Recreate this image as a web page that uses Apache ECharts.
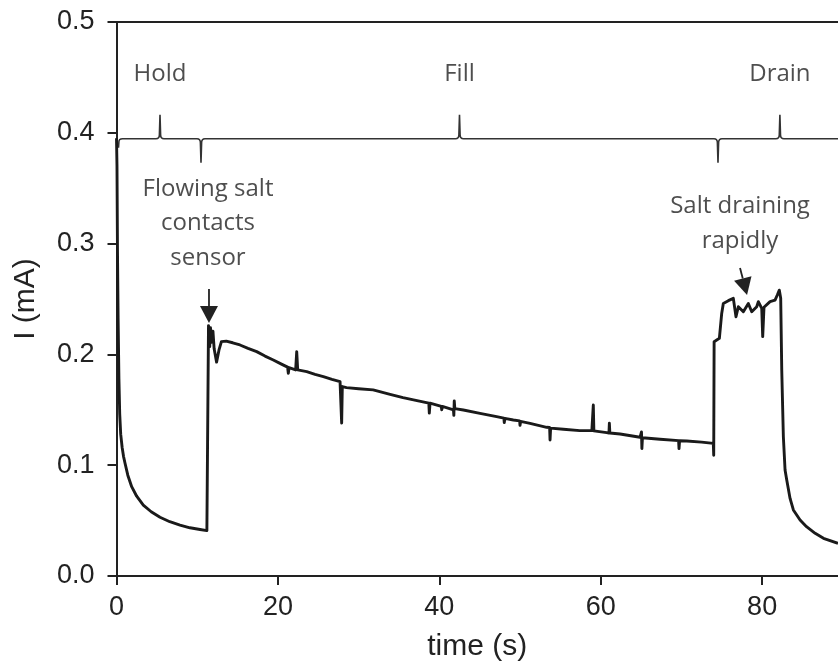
<!DOCTYPE html>
<html>
<head>
<meta charset="utf-8">
<script src="https://cdn.jsdelivr.net/npm/echarts@6/dist/echarts.min.js"></script>
<style>
  html, body { margin: 0; padding: 0; background: #fff; }
  #chart { width: 838px; height: 661px; }
</style>
</head>
<body>
<div id="chart"></div>
<script>
// Sensor current during a hold / fill / drain cycle
const timeS = [
  0, 0.06, 0.12, 0.2, 0.3, 0.4, 0.52, 0.7, 0.87, 1.05, 1.4, 1.88, 2.5, 3.32, 4.3, 5.39, 6.6, 7.87, 9.1, 10.35, 11.2, 11.36,
  11.4, 11.55, 11.65, 11.8, 11.95, 12.1, 12.4, 12.7, 13.0, 13.6, 14.4, 15.3, 16.3, 17.37, 18.4, 19.43, 20.5,
  21.2, 21.29, 21.38, 22.2, 22.33, 22.45, 23.57, 24.6, 25.63, 26.7, 27.7, 27.85, 27.9, 27.98, 28.5, 30.0, 31.8,
  33.9, 35.5, 36.8, 38.7, 38.76, 38.85, 40.25, 40.3, 40.38, 41.75, 41.8, 41.85, 41.92, 42.98, 45.04, 47.1,
  48.0, 48.05, 48.12, 49.17, 49.95, 50.0, 50.07, 51.24, 53.3, 53.67, 53.72, 53.79, 55.37, 57.4, 58.9, 59.03,
  59.08, 59.15, 60.74, 61.02, 61.07, 61.13, 62.4, 64.87, 65.0, 65.05, 65.1, 65.17, 67.35, 69.65, 69.7, 69.77,
  70.66, 72.5, 73.95, 74.0, 74.05, 74.29, 74.7, 74.99, 75.19, 75.81, 76.43, 76.76, 77.05, 77.67, 78.29, 78.71,
  79.33, 79.53, 79.95, 80.07, 80.23, 80.98, 81.6, 81.88, 82.13, 82.3, 82.43, 82.63, 82.84, 83.05, 83.46, 83.87,
  84.7, 85.5, 86.57, 87.6, 89.4
];
const currentMA = [
  0.395, 0.37, 0.294, 0.232, 0.178, 0.146, 0.128, 0.116, 0.108, 0.102, 0.091, 0.0806, 0.072, 0.064, 0.058, 0.053, 0.049, 0.046, 0.0435, 0.042, 0.041, 0.040,
  0.226, 0.207, 0.224, 0.211, 0.221, 0.205, 0.193, 0.204, 0.2115, 0.212, 0.2105, 0.2085, 0.2055, 0.2025, 0.1985, 0.195, 0.191,
  0.1885, 0.183, 0.188, 0.186, 0.2025, 0.186, 0.1845, 0.182, 0.18, 0.1775, 0.1754, 0.174, 0.138, 0.171, 0.170, 0.169, 0.168,
  0.164, 0.161, 0.159, 0.156, 0.147, 0.156, 0.153, 0.150, 0.153, 0.150, 0.145, 0.158, 0.151, 0.1498, 0.1468, 0.1438,
  0.1425, 0.1384, 0.1422, 0.1408, 0.140, 0.136, 0.1395, 0.1378, 0.1342, 0.134, 0.1227, 0.1335, 0.1324, 0.1312, 0.1312, 0.1312,
  0.1543, 0.131, 0.1294, 0.129, 0.1378, 0.129, 0.1282, 0.1252, 0.125, 0.130, 0.115, 0.1248, 0.1234, 0.1222, 0.115, 0.1221,
  0.1218, 0.1208, 0.1197, 0.109, 0.2115, 0.2115, 0.2145, 0.237, 0.246, 0.2485, 0.2506, 0.234, 0.243, 0.2385, 0.246, 0.2385,
  0.243, 0.2476, 0.2416, 0.216, 0.2425, 0.2476, 0.249, 0.2536, 0.258, 0.2506, 0.186, 0.1257, 0.0957, 0.0866, 0.070, 0.0596,
  0.0505, 0.0445, 0.0385, 0.034, 0.0295
];

const xMax = 89.4;
const xTicks = [0, 20, 40, 60, 80];
const yTicks = [0, 0.1, 0.2, 0.3, 0.4, 0.5];

// Phase bracket along the top of the plot
const phaseNames = ['Hold', 'Fill', 'Drain'];
const phaseCentres = [5.39, 42.5, 82.2];
const phaseBounds = [0, 10.47, 74.53];
const braceLevel = 0.3946;
const phaseLabelLevel = 0.453;

// Callouts with arrows
const noteTexts = ['Flowing salt\ncontacts\nsensor', 'Salt draining\nrapidly'];
const noteX = [11.34, 77.26];
const noteY = [0.318, 0.318];
const arrowFrom = [[11.46, 0.259], [77.26, 0.278]];
const arrowTo = [[11.46, 0.2283], [78.13, 0.2536]];

const axisColor = '#222';
const tickFont = 'Liberation Sans, Arial, sans-serif';
const noteFont = 'Open Sans, sans-serif';

const trace = timeS.map((t, i) => [t, currentMA[i]]);

function braceRender(params, api) {
  const y = api.coord([0, braceLevel])[1];
  const xStart = api.coord([phaseBounds[0], braceLevel])[0] + 2;
  const xEnd = api.coord([xMax, braceLevel])[0];
  const cusps = [];
  phaseCentres.forEach(c => cusps.push({ x: api.coord([c, braceLevel])[0], d: -1 }));
  phaseBounds.slice(1).forEach(b => cusps.push({ x: api.coord([b, braceLevel])[0], d: 1 }));
  cusps.sort((a, b) => a.x - b.x);
  const h = 24;
  let p = `M${xStart} ${y + 9} L${xStart + 0.4} ${y + 3} Q${xStart + 0.4} ${y} ${xStart + 4} ${y}`;
  cusps.forEach(c => {
    const cx = c.x, d = c.d;
    p += ` L${cx - 4} ${y} Q${cx - 0.6} ${y} ${cx - 0.6} ${y + d * 4} L${cx} ${y + d * h}` +
         ` L${cx + 0.6} ${y + d * 4} Q${cx + 0.6} ${y} ${cx + 4} ${y}`;
  });
  p += ` L${xEnd} ${y}`;
  return {
    type: 'path',
    shape: { pathData: p },
    style: { fill: null, stroke: '#333', lineWidth: 1.6 }
  };
}

function arrowRender(params, api) {
  const a = api.coord([api.value(0), api.value(1)]);
  const b = api.coord([api.value(2), api.value(3)]);
  const dx = b[0] - a[0], dy = b[1] - a[1];
  const len = Math.sqrt(dx * dx + dy * dy);
  const ux = dx / len, uy = dy / len;
  const headLen = 17, headHalf = 9;
  const base = [b[0] - ux * headLen, b[1] - uy * headLen];
  return {
    type: 'group',
    children: [
      {
        type: 'line',
        shape: { x1: a[0], y1: a[1], x2: base[0], y2: base[1] },
        style: { stroke: '#222', lineWidth: 1.8 }
      },
      {
        type: 'polygon',
        shape: { points: [b, [base[0] - uy * headHalf, base[1] + ux * headHalf], [base[0] + uy * headHalf, base[1] - ux * headHalf]] },
        style: { fill: '#222' }
      }
    ]
  };
}

const chart = echarts.init(document.getElementById('chart'));
chart.setOption({
  animation: false,
  backgroundColor: '#fff',
  grid: { left: 116.5, right: 0, top: 22, bottom: 85, containLabel: false, outerBoundsMode: 'none' },
  xAxis: [
    {
      type: 'value', min: 0, max: xMax,
      name: 'time (s)', nameLocation: 'middle', nameGap: 56,
      nameTextStyle: { fontFamily: tickFont, fontSize: 30, color: axisColor },
      axisLine: { show: true, lineStyle: { color: axisColor, width: 2 } },
      axisTick: { show: true, inside: false, length: 9, lineStyle: { color: axisColor, width: 2 }, customValues: xTicks },
      axisLabel: { fontFamily: tickFont, fontSize: 27, color: axisColor, margin: 18, customValues: xTicks },
      splitLine: { show: false }
    },
    {
      type: 'value', min: 0, max: xMax, position: 'top',
      axisLine: { show: true, lineStyle: { color: axisColor, width: 2 } },
      axisTick: { show: false }, axisLabel: { show: false }, splitLine: { show: false }
    }
  ],
  yAxis: {
    type: 'value', min: 0, max: 0.5, interval: 0.1,
    name: 'I (mA)', nameLocation: 'middle', nameGap: 76,
    nameTextStyle: { fontFamily: tickFont, fontSize: 30, color: axisColor },
    axisLine: { show: true, lineStyle: { color: axisColor, width: 2 } },
    axisTick: { show: true, inside: false, length: 9, lineStyle: { color: axisColor, width: 2 }, customValues: yTicks },
    axisLabel: { fontFamily: tickFont, fontSize: 27, color: axisColor, margin: 22, customValues: yTicks,
                 formatter: v => v.toFixed(1) },
    splitLine: { show: false }
  },
  series: [
    {
      type: 'line', data: trace, xAxisIndex: 0, showSymbol: false, symbol: 'none',
      lineStyle: { color: '#1a1a1a', width: 2.9, join: 'round' }, silent: true, z: 3
    },
    {
      type: 'custom', coordinateSystem: 'cartesian2d', xAxisIndex: 0, clip: false,
      data: [[0, braceLevel]], renderItem: braceRender, silent: true, z: 2
    },
    {
      type: 'custom', coordinateSystem: 'cartesian2d', xAxisIndex: 0, clip: false,
      data: arrowFrom.map((f, i) => [f[0], f[1], arrowTo[i][0], arrowTo[i][1]]),
      renderItem: arrowRender, silent: true, z: 4
    },
    {
      type: 'scatter', xAxisIndex: 0, symbolSize: 1, itemStyle: { color: 'rgba(0,0,0,0)' }, silent: true, z: 5,
      data: phaseNames.map((n, i) => ({ value: [phaseCentres[i], phaseLabelLevel], name: n }))
        .concat(noteTexts.map((n, i) => ({ value: [noteX[i], noteY[i]], name: n }))),
      label: {
        show: true, position: 'inside', formatter: p => p.name,
        fontFamily: noteFont, fontSize: 24, lineHeight: 34.5, color: '#222', align: 'center'
      }
    }
  ]
});
</script>
</body>
</html>
